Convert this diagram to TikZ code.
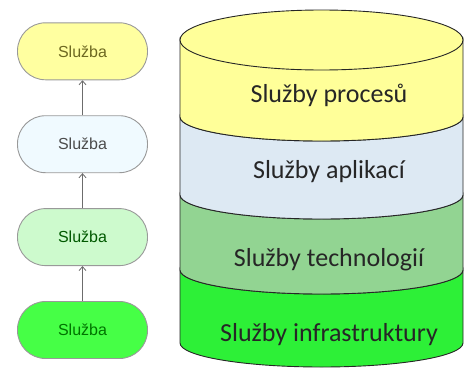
\documentclass[tikz,border=0pt]{standalone}
\usepackage{fontspec}
\setmainfont{Carlito}
\newfontfamily\pillfont{Liberation Sans}
\usetikzlibrary{positioning}
\usetikzlibrary{arrows.meta}
\definecolor{procyellow}{RGB}{255,255,153}
\definecolor{appblue}{RGB}{221,233,243}
\definecolor{techgreen}{RGB}{146,212,146}
\definecolor{infragreen}{RGB}{45,240,55}
\definecolor{pillyellow}{RGB}{255,255,160}
\definecolor{pillblue}{RGB}{240,250,255}
\definecolor{pillgreen}{RGB}{205,250,205}
\definecolor{pillbright}{RGB}{70,255,70}
\tikzset{service node/.style={rectangle,rounded corners=28pt,draw=gray!80,line width=0.9pt,minimum width=130pt,minimum height=57pt,inner sep=0pt,font=\pillfont\fontsize{16}{18}\selectfont},}
\tikzset{layer label/.style={font=\fontsize{26}{30}\selectfont,text=black!85},}
\tikzset{layer/.style={draw=black!85,line width=0.9pt},}

\begin{document}
\begin{tikzpicture}[x=1pt,y=1pt]
     \useasboundingbox (0,0) rectangle (466,368);
     % services on the left
     \node[service node,fill=pillbright,text=green!45!black] (s4) at (82.5,38) {Služba};
     \node[service node,fill=pillgreen,text=green!35!black] (s3) [above = 35pt of s4] {Služba};
     \node[service node,fill=pillblue,text=gray!60!black] (s2) [above = 35pt of s3] {Služba};
     \node[service node,fill=pillyellow,text=olive!70!black] (s1) [above = 35pt of s2] {Služba};

     \path[-{Straight Barb[length=4pt,width=7pt]},line width=0.8pt,color=gray!85!black]
     (s4) edge node {} (s3)
     (s3) edge node {} (s2)
     (s2) edge node {} (s1);

     % layered cylinder
     \filldraw[layer,fill=infragreen] (180,98) -- (180,25) arc[start angle=180,end angle=360,x radius=141.5,y radius=24] -- (463,98) arc[start angle=0,end angle=-180,x radius=141.5,y radius=24] -- cycle;
     \filldraw[layer,fill=techgreen] (180,173) -- (180,98) arc[start angle=180,end angle=360,x radius=141.5,y radius=24] -- (463,173) arc[start angle=0,end angle=-180,x radius=141.5,y radius=24] -- cycle;
     \filldraw[layer,fill=appblue] (180,251) -- (180,173) arc[start angle=180,end angle=360,x radius=141.5,y radius=24] -- (463,251) arc[start angle=0,end angle=-180,x radius=141.5,y radius=24] -- cycle;
     \filldraw[layer,fill=procyellow] (180,328) -- (180,251) arc[start angle=180,end angle=360,x radius=141.5,y radius=24] -- (463,328) arc[start angle=0,end angle=-180,x radius=141.5,y radius=24] -- cycle;
     \filldraw[layer,fill=procyellow] (321.5,328) ellipse [x radius=141.5,y radius=30];

     \node[layer label] (proc) at (329,273) {Služby procesů};
     \node[layer label] (app) at (329,196) {Služby aplikací};
     \node[layer label] (tech) at (329,108) {Služby technologií};
     \node[layer label] (infra) at (329,33) {Služby infrastruktury};
  \end{tikzpicture}
\end{document}
